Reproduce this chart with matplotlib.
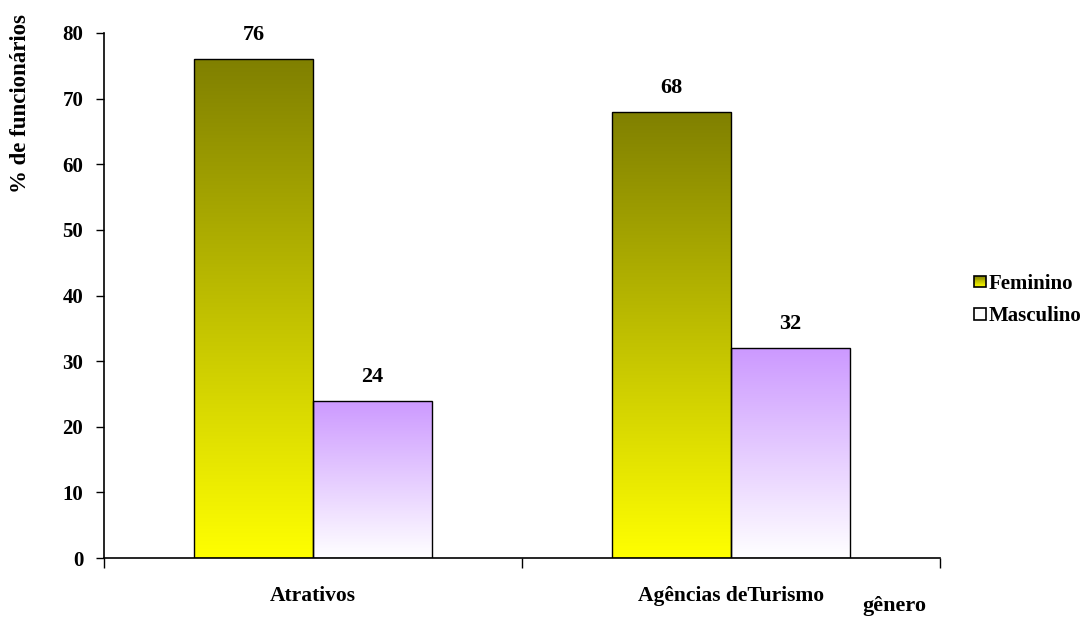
import matplotlib
matplotlib.use("Agg")
import matplotlib.pyplot as plt
import numpy as np
from matplotlib.colors import LinearSegmentedColormap, to_rgb
from matplotlib.patches import Rectangle
from matplotlib.legend_handler import HandlerBase

plt.rcParams["font.family"] = ["Liberation Serif", "DejaVu Serif"]
plt.rcParams["font.weight"] = "bold"

categories = ["Atrativos", "Agências deTurismo"]
feminino = [76, 68]
masculino = [24, 32]
series_names = ["Feminino", "Masculino"]

fem_colors = ("#808000", "#FFFF00")   # top -> bottom
mas_colors = ("#CC99FF", "#FFFFFF")

width = 0.285

fig = plt.figure(figsize=(10.9, 6.17), dpi=100)
ax = fig.add_axes([104 / 1090, 59 / 617, 836 / 1090, 525 / 617])


def gradient_bar(ax, x, h, colors):
    bar = ax.bar(x, h, width=width, align="edge", facecolor="none",
                 edgecolor="black", linewidth=1.0, zorder=3)[0]
    cmap = LinearSegmentedColormap.from_list("g", [colors[1], colors[0]])
    grad = np.linspace(0, 1, 256).reshape(-1, 1)
    im = ax.imshow(grad, cmap=cmap, aspect="auto", origin="lower",
                   extent=[x, x + width, 0, h], zorder=2)
    im.set_clip_path(bar)
    return bar


idx = np.arange(len(categories))
for i in idx:
    b1 = gradient_bar(ax, i - width, feminino[i], fem_colors)
    b2 = gradient_bar(ax, i, masculino[i], mas_colors)
    for b, v in ((b1, feminino[i]), (b2, masculino[i])):
        ax.annotate(f"{v}", (b.get_x() + b.get_width() / 2, v),
                    xytext=(0, 10), textcoords="offset points",
                    ha="center", va="bottom", fontsize=16, fontweight="bold")

ax.set_xlim(-0.5, 1.5)
ax.set_ylim(0, 80)
ax.set_yticks(range(0, 81, 10))
ax.tick_params(axis="y", labelsize=15, length=6, width=1, direction="out", pad=9)

ax.set_xticks([-0.5, 0.5, 1.5])
ax.set_xticklabels([])
ax.set_xticks(idx, minor=True)
ax.set_xticklabels(categories, minor=True, fontsize=15.5, fontweight="bold")
ax.tick_params(axis="x", which="major", length=7, width=1, direction="out")
ax.tick_params(axis="x", which="minor", length=0, pad=20)

for s in ("top", "right"):
    ax.spines[s].set_visible(False)
ax.spines["left"].set_linewidth(1.2)
ax.spines["bottom"].set_linewidth(1.2)

fig.text(21 / 1090, 1 - 14 / 617, "% de funcionários", rotation=90,
         ha="center", va="top", fontsize=16.5, fontweight="bold")
fig.text(894 / 1090, 1 - 606 / 617, "gênero", ha="center", va="center",
         fontsize=16, fontweight="bold")


class GradientHandler(HandlerBase):
    def __init__(self, colors):
        super().__init__()
        self.colors = colors

    def create_artists(self, legend, orig_handle, xdescent, ydescent,
                       width, height, fontsize, trans):
        size = height * 0.8
        x0 = width - size
        y0 = (height - size) / 2
        top = np.array(to_rgb(self.colors[0]))
        bot = np.array(to_rgb(self.colors[1]))
        n = 12
        artists = []
        for k in range(n):
            t = (k + 0.5) / n
            c = bot * (1 - t) + top * t
            artists.append(Rectangle((x0, y0 + size * k / n), size, size / n,
                                     facecolor=c, edgecolor="none",
                                     transform=trans))
        artists.append(Rectangle((x0, y0), size, size, facecolor="none",
                                 edgecolor="black", linewidth=1.2,
                                 transform=trans))
        return artists


h_f = Rectangle((0, 0), 1, 1)
h_m = Rectangle((0, 0), 1, 1)
fig.legend([h_f, h_m], series_names,
           handler_map={h_f: GradientHandler(fem_colors),
                        h_m: GradientHandler(("#FFFFFF", "#FFFFFF"))},
           loc="center left", bbox_to_anchor=(962 / 1090, 1 - 300 / 617),
           frameon=False, prop={"size": 15, "weight": "bold"},
           handlelength=0.75, handletextpad=0.15, labelspacing=0.6,
           borderaxespad=0)

fig.savefig("out.png", dpi=100)
